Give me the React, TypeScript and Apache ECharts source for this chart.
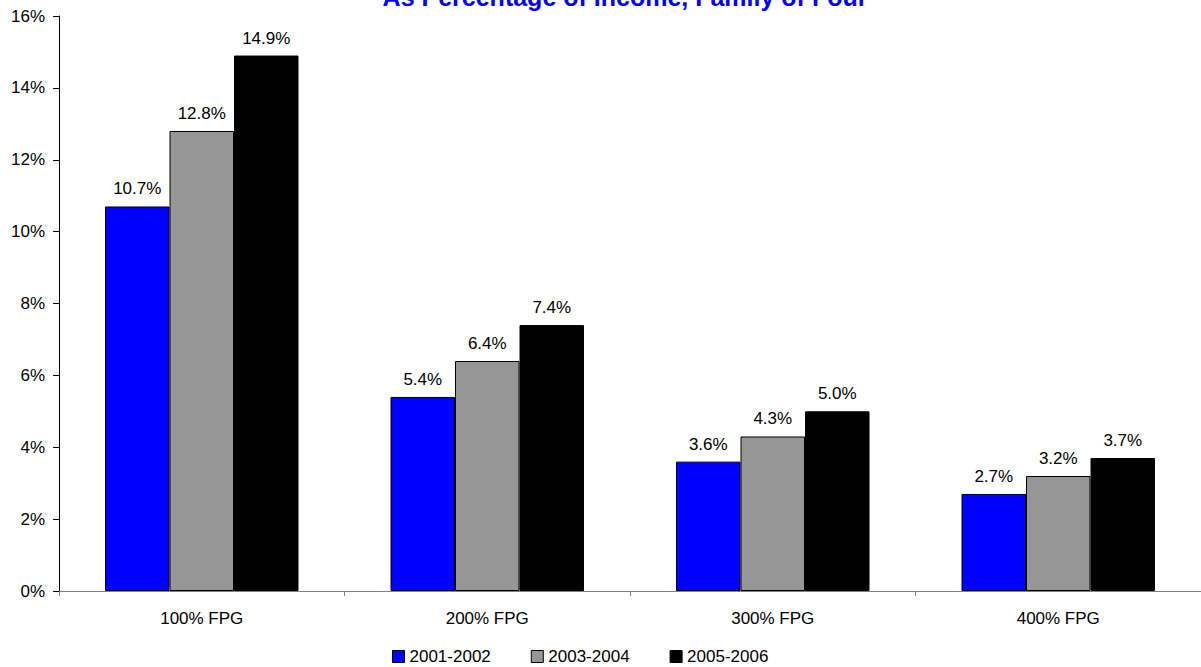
import React, { useEffect, useRef } from "react";
import * as echarts from "echarts";

const categories = ["100% FPG", "200% FPG", "300% FPG", "400% FPG"];
const seriesNames = ["2001-2002", "2003-2004", "2005-2006"];
const values2001 = [10.7, 5.4, 3.6, 2.7];
const values2003 = [12.8, 6.4, 4.3, 3.2];
const values2005 = [14.9, 7.4, 5.0, 3.7];
const seriesColors = ["#0000FF", "#969696", "#000000"];
const titleText = "As Percentage of Income, Family of Four";

const FONT = "'Liberation Sans', Arial, Helvetica, sans-serif";

export default function App() {
  const ref = useRef<HTMLDivElement>(null);

  useEffect(() => {
    if (!ref.current) return;
    const chart = echarts.init(ref.current, undefined, { renderer: "svg" });
    const allValues = [values2001, values2003, values2005];
    chart.setOption({
      animation: false,
      backgroundColor: "#ffffff",
      title: {
        text: titleText,
        left: 620,
        textAlign: "center",
        top: -21,
        textStyle: { color: "#0000FF", fontWeight: "bold", fontSize: 25, fontFamily: FONT },
      },
      legend: {
        data: seriesNames,
        left: 387,
        top: 643,
        itemWidth: 12,
        itemHeight: 12,
        itemGap: 40,
        icon: "rect",
        itemStyle: { borderColor: "#000", borderWidth: 1 },
        textStyle: { color: "#000", fontSize: 17, fontFamily: FONT },
      },
      grid: { left: 59, top: 16, width: 1155, height: 575, containLabel: false },
      xAxis: {
        type: "category",
        data: categories,
        axisLine: { lineStyle: { color: "#808080", width: 1 } },
        axisTick: { show: true, alignWithLabel: false, length: 5, inside: false, lineStyle: { color: "#808080" } },
        axisLabel: { color: "#000", fontSize: 17, fontFamily: FONT, margin: 19 },
      },
      yAxis: {
        type: "value",
        min: 0,
        max: 16,
        interval: 2,
        splitLine: { show: false },
        axisLine: { show: true, lineStyle: { color: "#000", width: 1 } },
        axisTick: { show: true, length: 6, lineStyle: { color: "#000" } },
        axisLabel: { color: "#000", fontSize: 17, fontFamily: FONT, margin: 14, formatter: "{value}%" },
      },
      series: seriesNames.map((name, i) => ({
        name,
        type: "bar",
        data: allValues[i],
        barWidth: 64.5,
        barGap: "0%",
        itemStyle: { color: seriesColors[i], borderColor: "#000", borderWidth: 1 },
        label: {
          show: true,
          position: "top",
          distance: 9,
          color: "#000",
          fontSize: 17,
          fontFamily: FONT,
          formatter: (p: any) => `${Number(p.value).toFixed(1)}%`,
        },
      })),
    });
    return () => chart.dispose();
  }, []);

  return <div ref={ref} style={{ width: 1201, height: 667, position: "absolute", left: 0, top: 0 }} />;
}
